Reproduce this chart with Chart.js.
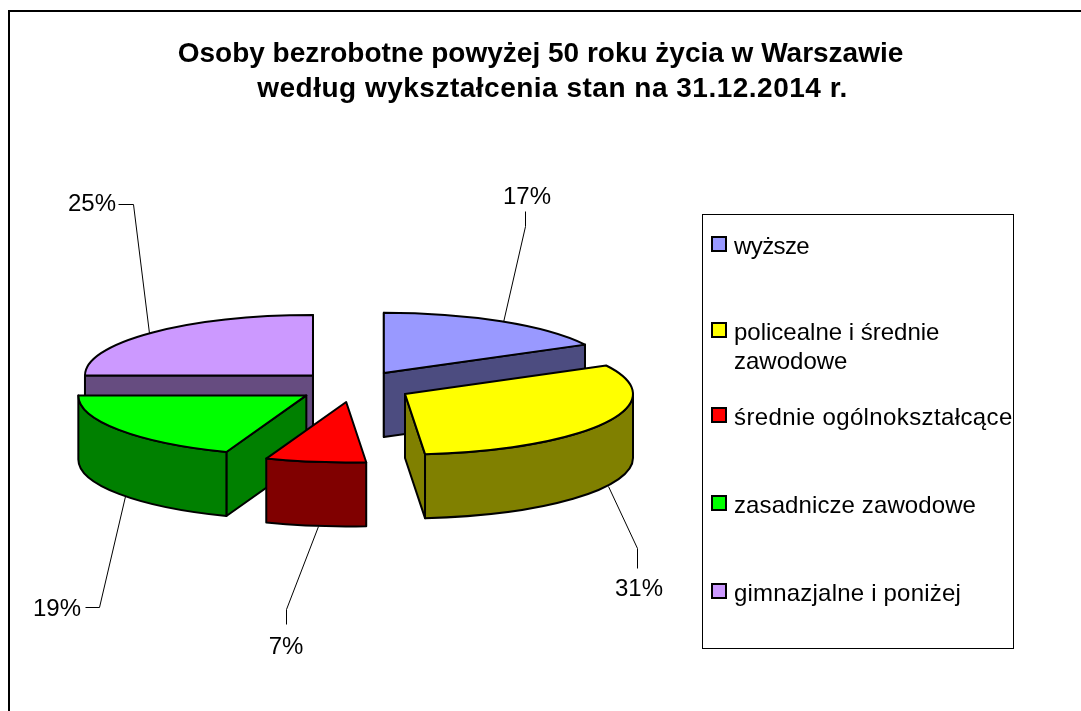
<!DOCTYPE html>
<html><head><meta charset="utf-8">
<style>html,body{margin:0;padding:0;background:#fff}canvas{display:block}</style>
<script src="https://cdn.jsdelivr.net/npm/chart.js@4"></script>
</head><body><canvas id="c" width="1081" height="711"></canvas>
<script>
const categories = ['wyższe','policealne i średnie zawodowe','średnie ogólnokształcące','zasadnicze zawodowe','gimnazjalne i poniżej'];
const legendLines = [['wyższe'],['policealne i średnie','zawodowe'],['średnie ogólnokształcące'],['zasadnicze zawodowe'],['gimnazjalne i poniżej']];
const values = [17.2,31.4,7.1,19.3,25.0];
const topColors = ['#9999FF','#FFFF00','#FF0000','#00FF00','#CC99FF'];
const wallColors = ['#4C4C80','#808000','#800000','#008000','#664C80'];
const titleLines = ['Osoby bezrobotne powyżej 50 roku życia w Warszawie','według wykształcenia stan na 31.12.2014 r.'];

const FONT = '"Liberation Sans", Arial, sans-serif';
const CX=354, CY=386.5, K=0.265, EK=0.27, R=228, EXPLODE=58, DEPTH=64;
const paintOrder=[0,4,3,1,2];
const labelPos=[[527,197],[639,589],[286,647],[57,609],[92,204]];
const leaders=[
 [[525,211],[525,226],[503,322]],
 [[637,568],[637,548],[608,486]],
 [[286,624],[286,609],[318,526]],
 [[85,607],[99,607],[125,496]],
 [[118,204],[133,204],[149,333]]];
const legendRowY=[244,330,415,503,591];
const legendSpacing=['-0.6px','0px','0.38px','0.1px','0.2px'];
const titlePos=[[540.5,54,'0px'],[552.5,89,'0.5px']];

const pie3d={
 id:'pie3d',
 beforeDraw(chart){
  const c=chart.ctx; c.save();
  c.fillStyle='#fff'; c.fillRect(0,0,chart.width,chart.height);
  c.strokeStyle='#000'; c.lineWidth=2;
  c.beginPath(); c.moveTo(9,chart.height); c.lineTo(9,11); c.lineTo(chart.width,11); c.stroke();
  c.restore();
 },
 beforeDatasetsDraw(chart){
  const c=chart.ctx, meta=chart.getDatasetMeta(0);
  c.save(); c.strokeStyle='#000'; c.lineWidth=1;
  leaders.forEach(l=>{c.beginPath();l.forEach((p,i)=>i?c.lineTo(p[0]+.5,p[1]+.5):c.moveTo(p[0]+.5,p[1]+.5));c.stroke();});
  c.restore();
  paintOrder.forEach(i=>{
   const el=meta.data[i], a=el.startAngle, b=el.endAngle, mid=(a+b)/2;
   const ox=CX+EXPLODE*Math.cos(mid), oy=CY+EK*EXPLODE*Math.sin(mid);
   const px=t=>ox+el.outerRadius*Math.cos(t), py=t=>oy+K*el.outerRadius*Math.sin(t);
   const ry=K*el.outerRadius, rx=el.outerRadius;
   c.save();
   c.lineWidth=2; c.lineJoin='round'; c.strokeStyle='#000'; c.fillStyle=wallColors[i];
   const quad=t=>{c.beginPath();c.moveTo(ox,oy);c.lineTo(px(t),py(t));c.lineTo(px(t),py(t)+DEPTH);c.lineTo(ox,oy+DEPTH);c.closePath();c.fill();c.stroke();};
   if(-Math.cos(a)>-1e-6) quad(a);
   if(Math.cos(b)>-1e-6) quad(b);
   const f0=Math.max(a,0), f1=Math.min(b,Math.PI);
   if(f1>f0){
    c.beginPath();
    c.ellipse(ox,oy,rx,ry,0,f0,f1);
    c.lineTo(px(f1),py(f1)+DEPTH);
    c.ellipse(ox,oy+DEPTH,rx,ry,0,f1,f0,true);
    c.closePath(); c.fill(); c.stroke();
   }
   c.save();
   c.translate(ox,oy); c.scale(1,K); c.translate(-el.x,-el.y);
   el.draw(c);
   c.restore();
   c.beginPath(); c.moveTo(ox,oy); c.ellipse(ox,oy,rx,ry,0,a,b); c.closePath(); c.stroke();
   c.restore();
  });
  return false;
 },
 afterDraw(chart){
  const c=chart.ctx;
  c.save();
  c.fillStyle='#000'; c.textAlign='center'; c.textBaseline='middle';
  c.font='bold 28px '+FONT;
  titleLines.forEach((t,i)=>{c.letterSpacing=titlePos[i][2];c.fillText(t,titlePos[i][0],titlePos[i][1]);});
  c.letterSpacing='0px';
  const total=values.reduce((s,v)=>s+v,0);
  c.font='24px '+FONT;
  values.forEach((v,i)=>c.fillText(Math.round(v/total*100)+'%',labelPos[i][0],labelPos[i][1]));
  c.strokeStyle='#000'; c.lineWidth=1; c.strokeRect(702.5,214.5,311,434);
  c.textAlign='left';
  legendLines.forEach((lines,i)=>{
   const y=legendRowY[i];
   c.fillStyle=topColors[i]; c.lineWidth=2; c.fillRect(712,y-7,14,14); c.strokeRect(712,y-7,14,14);
   c.fillStyle='#000'; c.letterSpacing=legendSpacing[i];
   lines.forEach((t,j)=>c.fillText(t,734,y+3+j*29));
  });
  c.restore();
 }
};

new Chart(document.getElementById('c'),{
 type:'pie',
 data:{labels:categories,datasets:[{data:values,backgroundColor:topColors,borderWidth:0}]},
 options:{
  responsive:false,animation:false,radius:R,
  layout:{padding:0},
  plugins:{legend:{display:false},tooltip:{enabled:false},title:{display:false}}
 },
 plugins:[pie3d]
});
</script></body></html>
